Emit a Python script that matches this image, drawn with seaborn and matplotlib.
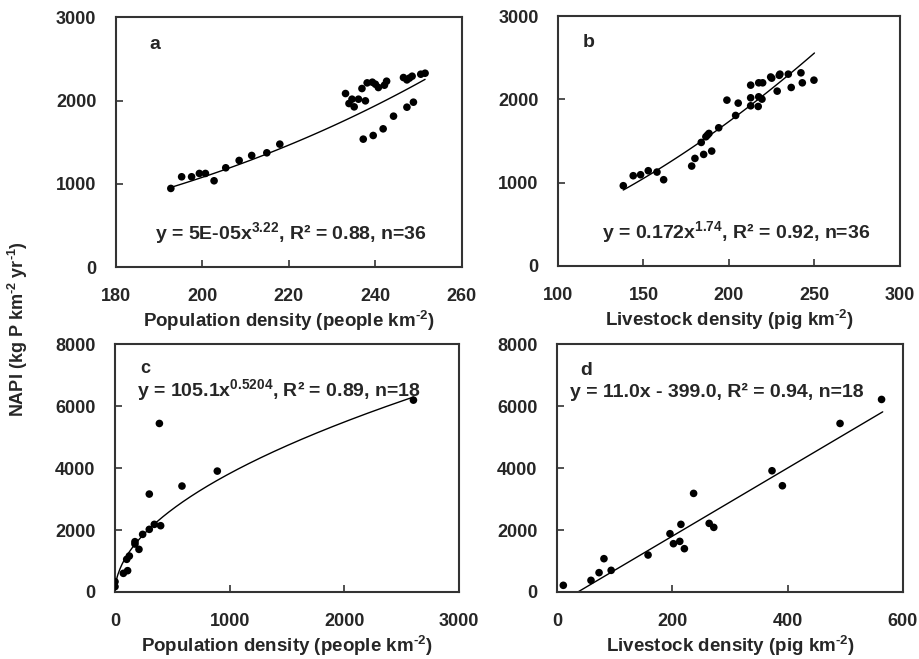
import matplotlib
matplotlib.use("Agg")
import matplotlib.pyplot as plt
import numpy as np
import pandas as pd
import seaborn as sns

# panel a: population density vs NAPI (36 points)
pop_a = [192.7, 195.2, 197.5, 199.3, 200.7, 202.7, 205.4, 208.5, 211.4, 214.9,
         217.9, 233.1, 233.9, 234.6, 235.1, 236.1, 236.9, 237.7, 238.1, 239.3,
         240.0, 240.7, 242.1, 242.6, 237.2, 239.5, 241.8, 244.2, 247.3, 248.8,
         246.5, 247.3, 248.5, 247.9, 250.5, 251.5]
napi_a = [944, 1084, 1084, 1124, 1124, 1036, 1192, 1280, 1340, 1372,
          1476, 2084, 1964, 2016, 1924, 2016, 2144, 1996, 2212, 2220,
          2196, 2156, 2184, 2232, 1536, 1580, 1660, 1812, 1920, 1980,
          2276, 2248, 2292, 2270, 2316, 2328]

# panel b: livestock density vs NAPI (36 points)
pig_b = [138.2, 144.0, 148.3, 152.8, 157.9, 161.8, 178.2, 180.1, 185.2, 189.9,
         183.8, 186.5, 188.3, 194.0, 198.8, 203.9, 205.4, 212.7, 212.7, 212.7,
         217.4, 219.7, 217.4, 219.3, 217.1, 225.0, 229.8, 234.7, 228.2, 236.4,
         242.1, 242.9, 249.7, 187.4, 229.4, 224.4]
napi_b = [964, 1084, 1096, 1144, 1128, 1036, 1200, 1292, 1340, 1380,
          1484, 1552, 1592, 1660, 1992, 1808, 1956, 2172, 2020, 1924,
          2200, 2200, 2032, 2004, 1916, 2256, 2304, 2304, 2100, 2144,
          2320, 2200, 2232, 1572, 2290, 2270]

# panel c: population density vs NAPI (18 points)
pop_c = [0, 0, 73, 110, 102, 125, 174, 174, 209, 241, 299, 343, 398, 299, 387,
         584, 892, 2602]
napi_c = [172, 333, 602, 688, 1054, 1161, 1624, 1548, 1376, 1860, 2022, 2183,
          2140, 3161, 5441, 3420, 3903, 6194]

# panel d: livestock density vs NAPI (18 points)
pig_d = [11, 59, 73, 81.5, 94, 158, 196, 202, 213, 215, 221, 237, 264, 272,
         373, 391, 491, 563]
napi_d = [215, 376, 624, 1075, 699, 1194, 1882, 1559, 1634, 2183, 1398, 3183,
          2215, 2086, 3914, 3430, 5441, 6216]

# fitted curves
fit_a = (4.2e-5, 3.22)
fit_b = (0.172, 1.74)
fit_c = (105.1, 0.5204)
fit_d = (11.0, -399.0)

sns.set_style("ticks")
plt.rcParams['font.family'] = ['Liberation Sans', 'DejaVu Sans']
plt.rcParams['font.weight'] = 'bold'
plt.rcParams['mathtext.fontset'] = 'custom'
plt.rcParams['mathtext.rm'] = 'Liberation Sans:bold'
plt.rcParams['mathtext.it'] = 'Liberation Sans:bold'
plt.rcParams['mathtext.bf'] = 'Liberation Sans:bold'

fs = 13
fs_eq = 14
fig = plt.figure(figsize=(9.2, 6.59), dpi=100)
ax_a = fig.add_axes([0.126, 0.5948, 0.376, 0.379])
ax_b = fig.add_axes([0.6065, 0.5964, 0.3717, 0.379])
ax_c = fig.add_axes([0.125, 0.1017, 0.374, 0.376])
ax_d = fig.add_axes([0.6054, 0.1017, 0.376, 0.376])


def style(ax, xlim, xticks, ylim, yticks, xlabel):
    ax.set_xlim(xlim)
    ax.set_ylim(ylim)
    ax.set_xticks(xticks)
    ax.set_yticks(yticks)
    ax.tick_params(direction='in', length=5, width=1.2, color='#333333',
                   labelsize=fs, top=False, right=False)
    ax.tick_params(axis='y', pad=14)
    ax.tick_params(axis='x', pad=15)
    for lbl in ax.get_xticklabels() + ax.get_yticklabels():
        lbl.set_fontweight('bold')
    for s in ax.spines.values():
        s.set_visible(True)
        s.set_linewidth(1.5)
        s.set_color('#333333')
    ax.set_xlabel(xlabel, fontsize=fs + 0.5, fontweight='bold', labelpad=3)
    ax.set_ylabel('')


def scatter(ax, x, y):
    df = pd.DataFrame({'x': x, 'y': y})
    sns.scatterplot(data=df, x='x', y='y', ax=ax, color='black', s=30,
                    edgecolor='none', zorder=3)


# a
xa = np.linspace(min(pop_a), max(pop_a), 100)
scatter(ax_a, pop_a, napi_a)
sns.lineplot(x=xa, y=fit_a[0] * xa ** fit_a[1], ax=ax_a, color='black', lw=1)
style(ax_a, (180, 260), [180, 200, 220, 240, 260], (0, 3000),
      [0, 1000, 2000, 3000], r'Population density (people km$^{\text{-2}}$)')
ax_a.text(0.098, 0.89, 'a', transform=ax_a.transAxes, fontsize=fs + 1,
          fontweight='bold', va='center')
ax_a.text(0.506, 0.136, r'y = 5E-05x$^{3.22}$, R² = 0.88, n=36',
          transform=ax_a.transAxes, fontsize=fs_eq, fontweight='bold',
          ha='center', va='center')

# b
xb = np.linspace(min(pig_b), 250, 100)
scatter(ax_b, pig_b, napi_b)
sns.lineplot(x=xb, y=fit_b[0] * xb ** fit_b[1], ax=ax_b, color='black', lw=1)
style(ax_b, (100, 300), [100, 150, 200, 250, 300], (0, 3000),
      [0, 1000, 2000, 3000], r'Livestock density (pig km$^{\text{-2}}$)')
ax_b.text(0.073, 0.896, 'b', transform=ax_b.transAxes, fontsize=fs + 1,
          fontweight='bold', va='center')
ax_b.text(0.52, 0.136, r'y = 0.172x$^{1.74}$, R² = 0.92, n=36',
          transform=ax_b.transAxes, fontsize=fs_eq, fontweight='bold',
          ha='center', va='center')

# c
xc = np.linspace(0, max(pop_c), 300)
scatter(ax_c, pop_c, napi_c)
sns.lineplot(x=xc, y=fit_c[0] * xc ** fit_c[1], ax=ax_c, color='black', lw=1)
style(ax_c, (0, 3000), [0, 1000, 2000, 3000], (0, 8000),
      [0, 2000, 4000, 6000, 8000],
      r'Population density (people km$^{\text{-2}}$)')
ax_c.text(0.073, 0.903, 'c', transform=ax_c.transAxes, fontsize=fs,
          fontweight='bold', va='center')
ax_c.text(0.064, 0.815, r'y = 105.1x$^{0.5204}$, R² = 0.89, n=18',
          transform=ax_c.transAxes, fontsize=fs_eq, fontweight='bold',
          ha='left', va='center')

# d
xd = np.linspace(-fit_d[1] / fit_d[0], 565, 50)
scatter(ax_d, pig_d, napi_d)
sns.lineplot(x=xd, y=fit_d[0] * xd + fit_d[1], ax=ax_d, color='black', lw=1)
style(ax_d, (0, 600), [0, 200, 400, 600], (0, 8000),
      [0, 2000, 4000, 6000, 8000], r'Livestock density (pig km$^{\text{-2}}$)')
ax_d.text(0.066, 0.895, 'd', transform=ax_d.transAxes, fontsize=fs + 1,
          fontweight='bold', va='center')
ax_d.text(0.038, 0.806, 'y = 11.0x - 399.0, R² = 0.94, n=18',
          transform=ax_d.transAxes, fontsize=fs_eq, fontweight='bold',
          ha='left', va='center')

fig.text(0.02, 0.5, r'NAPI (kg P km$^{\text{-2}}$ yr$^{\text{-1}}$)',
         rotation=90, fontsize=fs, fontweight='bold', ha='center',
         va='center')

fig.savefig('out.png', dpi=100)
